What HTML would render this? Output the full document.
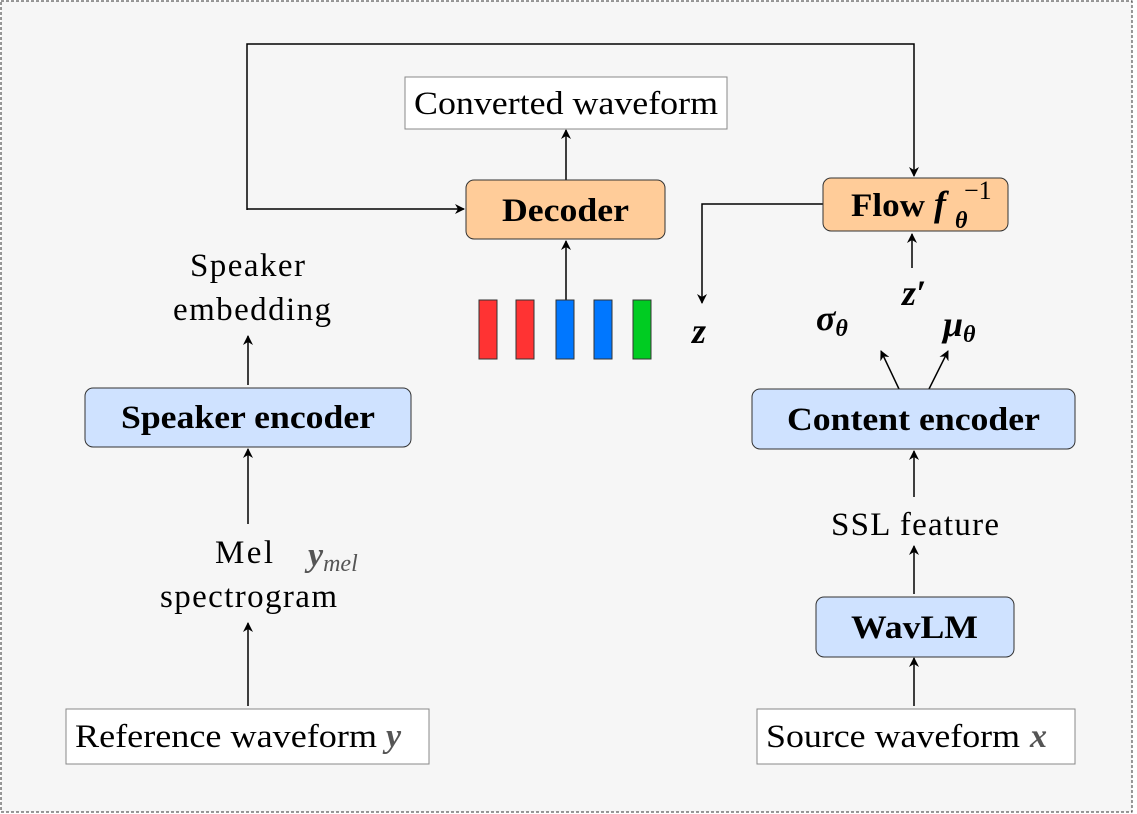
<!DOCTYPE html>
<html><head><style>body{margin:0;background:#fff}svg{display:block}</style></head><body>
<svg width="1137" height="814" xmlns="http://www.w3.org/2000/svg" font-family="Liberation Serif, serif">
<defs><marker id="a" markerWidth="10" markerHeight="10" refX="9" refY="5" orient="auto" markerUnits="userSpaceOnUse"><path d="M0,0 L10,5 L0,10 L3,5z" fill="#000"/></marker></defs>
<rect x="1" y="1" width="1131" height="811" fill="#f6f6f6" stroke="#333" stroke-dasharray="3,2"/>
<g stroke="#000" stroke-width="1.5" fill="none">
<polyline points="247,210 247,44 914,44 914,176" marker-end="url(#a)"/>
<line x1="247" y1="209" x2="464" y2="209" marker-end="url(#a)"/>
<line x1="248" y1="385" x2="248" y2="336" marker-end="url(#a)"/>
<line x1="248" y1="524" x2="248" y2="449" marker-end="url(#a)"/>
<line x1="248" y1="706" x2="248" y2="623" marker-end="url(#a)"/>
<line x1="566" y1="300" x2="566" y2="241" marker-end="url(#a)"/>
<line x1="566" y1="180" x2="566" y2="130" marker-end="url(#a)"/>
<polyline points="823,204 702,204 702,303" marker-end="url(#a)"/>
<line x1="912" y1="268" x2="912" y2="234" marker-end="url(#a)"/>
<line x1="899" y1="389" x2="881" y2="351" marker-end="url(#a)"/>
<line x1="929" y1="389" x2="948" y2="351" marker-end="url(#a)"/>
<line x1="914" y1="497" x2="914" y2="451" marker-end="url(#a)"/>
<line x1="914" y1="594" x2="914" y2="546" marker-end="url(#a)"/>
<line x1="914" y1="706" x2="914" y2="658" marker-end="url(#a)"/>
</g>
<rect x="405" y="77" width="322" height="52" fill="#fff" stroke="#888"/>
<text x="414" y="114" font-size="33" textLength="304" lengthAdjust="spacingAndGlyphs">Converted waveform</text>
<rect x="466" y="180" width="199" height="59" rx="8" fill="#ffcc99" stroke="#333"/>
<text x="502" y="221" font-size="33" font-weight="bold" textLength="127" lengthAdjust="spacingAndGlyphs">Decoder</text>
<rect x="823" y="178" width="185" height="53" rx="8" fill="#ffcc99" stroke="#333"/>
<text x="851" y="216" font-size="33" font-weight="bold" textLength="74" lengthAdjust="spacingAndGlyphs">Flow</text>
<text x="934" y="216" font-size="36" font-style="italic" font-weight="bold">f</text>
<text x="955" y="228" font-size="24" font-style="italic" font-weight="bold">θ</text>
<text x="964" y="199" font-size="26">−1</text>
<rect x="85" y="388" width="326" height="59" rx="8" fill="#cfe2ff" stroke="#333"/>
<text x="121" y="428" font-size="33" font-weight="bold" textLength="254" lengthAdjust="spacingAndGlyphs">Speaker encoder</text>
<rect x="752" y="389" width="323" height="60" rx="8" fill="#cfe2ff" stroke="#333"/>
<text x="787" y="430" font-size="33" font-weight="bold" textLength="253" lengthAdjust="spacingAndGlyphs">Content encoder</text>
<rect x="816" y="597" width="198" height="60" rx="8" fill="#cfe2ff" stroke="#333"/>
<text x="851" y="638" font-size="33" font-weight="bold" textLength="127" lengthAdjust="spacingAndGlyphs">WavLM</text>
<rect x="66" y="709" width="363" height="55" fill="#fff" stroke="#888"/>
<text x="75" y="747" font-size="33" textLength="302" lengthAdjust="spacingAndGlyphs">Reference waveform</text>
<text x="386" y="747" font-size="34" font-style="italic" font-weight="bold" fill="#555">y</text>
<rect x="757" y="709" width="318" height="55" fill="#fff" stroke="#888"/>
<text x="766" y="747" font-size="33" textLength="254" lengthAdjust="spacingAndGlyphs">Source waveform</text>
<text x="1030" y="747" font-size="34" font-style="italic" font-weight="bold" fill="#555">x</text>
<g stroke="#333" stroke-width="1">
<rect x="479" y="300" width="18" height="59" fill="#ff3333"/>
<rect x="516" y="300" width="18" height="59" fill="#ff3333"/>
<rect x="556" y="300" width="18" height="59" fill="#0077ff"/>
<rect x="594" y="300" width="18" height="59" fill="#0077ff"/>
<rect x="633" y="300" width="18" height="59" fill="#00cc22"/>
</g>
<g font-size="33" lengthAdjust="spacingAndGlyphs">
<text x="190" y="276" textLength="115">Speaker</text>
<text x="173" y="320" textLength="158">embedding</text>
<text x="215" y="563" textLength="58">Mel</text>
<text x="160" y="607" textLength="177">spectrogram</text>
<text x="831" y="535" textLength="168">SSL feature</text>
</g>
<text x="308" y="566" font-size="34" font-style="italic" font-weight="bold" fill="#555">y<tspan font-size="24" dy="5" font-weight="normal">mel</tspan></text>
<g font-style="italic" font-size="36" font-weight="bold">
<text x="692" y="343">z</text>
<text x="902" y="305">z′</text>
<text x="816" y="330">σ<tspan font-size="24" dy="6">θ</tspan></text>
<text x="943" y="336">μ<tspan font-size="24" dy="6">θ</tspan></text>
</g>
</svg>
</body></html>
